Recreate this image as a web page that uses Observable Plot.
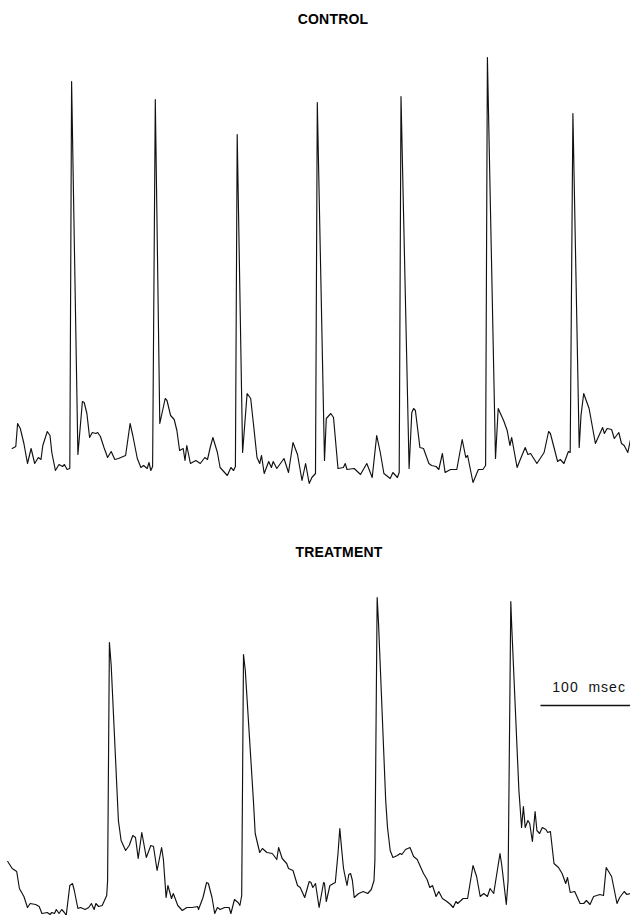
<!DOCTYPE html>
<html>
<head>
<meta charset="utf-8">
<script src="https://cdn.jsdelivr.net/npm/d3@7"></script>
<script src="https://cdn.jsdelivr.net/npm/@observablehq/plot@0.6"></script>
<style>
  html, body { margin: 0; padding: 0; background: #fff; }
  body { width: 630px; height: 915px; position: relative; overflow: hidden;
         font-family: "Liberation Sans", Arial, Helvetica, sans-serif; }
  .title { position: absolute; font-weight: bold; font-size: 14px; line-height: 16px;
           transform: translateX(-50%); white-space: nowrap; color: #000; letter-spacing: 0.2px; }
  #control { position: absolute; left: 0; top: 40px; }
  #treatment { position: absolute; left: 0; top: 580px; }
  svg { overflow: visible; }
</style>
</head>
<body>
<div id="title-control" class="title" style="left:333px; top:11px;"></div>
<div id="title-treatment" class="title" style="left:339px; top:544px;"></div>
<div id="control"></div>
<div id="treatment"></div>
<script>
// Panel titles
const panelTitles = ["CONTROL", "TREATMENT"];

// Control trace: [time (ms), amplitude (arbitrary units)]
const controlTrace = [
  [13,32],[17,34],[19,57],[22,52],[26,37],[30,17],[34,32],[38,17],[42,23],[45,21],[47,35],[52,49],[55,45],[57,28],[61,10],[65,16],[69,14],[71,16],[74,11],[77,12],
  [79,399],[86,26],[91,79],[93,78],[96,67],[99,43],[102,48],[106,47],[108,48],[111,44],[115,33],[119,23],[123,29],[127,21],[131,22],[139,25],[144,57],[147,45],[152,22],[156,13],[159,15],[163,12],[165,18],[167,10],[169,14],
  [172,381],[177,57],[183,82],[185,80],[189,65],[193,61],[196,50],[199,30],[203,32],[205,20],[207,35],[211,17],[217,20],[222,17],[227,23],[230,21],[233,33],[236,43],[241,28],[244,13],[252,5],[256,13],[259,10],[261,14],
  [263,346],[269,28],[274,87],[278,82],[281,57],[285,23],[288,17],[290,25],[293,7],[298,19],[301,13],[303,19],[307,12],[315,22],[320,8],[325,38],[330,26],[335,0],[339,17],[343,-3],[346,3],[350,7],
  [352,378],[360,20],[362,62],[367,67],[370,63],[375,12],[381,13],[383,17],[385,11],[393,12],[400,6],[407,17],[413,3],[418,45],[422,28],[426,7],[433,2],[436,8],[441,3],[443,8],
  [445,384],[454,12],[457,68],[459,72],[461,70],[466,33],[470,32],[476,17],[479,15],[484,14],[487,11],[491,27],[494,8],[500,11],[507,11],[513,41],[517,23],[519,25],[525,-2],[531,11],[536,11],[539,15],
  [541,423],[550,22],[553,72],[559,60],[563,50],[566,35],[568,43],[574,13],[578,22],[583,33],[586,26],[589,27],[596,17],[604,28],[609,49],[611,47],[619,19],[622,21],[626,17],[631,29],[633,28],
  [636,367],[643,33],[645,65],[648,87],[654,72],[661,37],[669,53],[671,47],[674,52],[679,51],[682,42],[687,48],[690,37],[693,35],[697,28],[700,41]
];

// Treatment trace: [time (ms), amplitude (arbitrary units)]
const treatmentTrace = [
  [8,49],[13,42],[18,39],[21,22],[26,14],[30,3],[33,7],[39,6],[43,4],[46,-3],[52,-2],[55,-4],[57,-2],[60,-3],[62,1],[65,-3],[68,1],[71,-2],[73,-5],[77,25],[80,27],[82,20],[86,2],[89,3],[94,1],[98,3],[101,7],[104,1],[106,7],[109,4],[113,5],[118,15],[119,30],
  [121,268],[123,245],[131,90],[134,70],[139,60],[143,65],[147,75],[150,73],[153,52],[157,78],[162,53],[167,65],[170,64],[174,40],[179,63],[181,51],[184,13],[186,25],[190,12],[192,17],[197,5],[202,0],[207,3],[213,3],[219,4],[220,1],[225,13],[229,28],[231,27],[235,13],[238,-3],[241,3],[244,1],[249,3],[254,3],[256,-3],[260,11],[264,8],[266,5],[268,15],
  [270,256],[272,240],[281,110],[283,77],[288,58],[291,62],[296,58],[302,57],[307,51],[309,63],[313,52],[318,47],[320,42],[325,40],[330,25],[333,23],[338,13],[343,29],[345,28],[347,23],[350,27],[354,3],[359,28],[360,27],[362,9],[366,25],[372,28],[375,57],[377,82],[379,62],[381,43],[382,38],[385,25],[387,36],[389,37],[391,30],[393,13],[398,17],[403,19],[408,17],[412,21],[415,30],[416,50],
  [418.5,313],[420,288],[428,110],[430,83],[433,60],[436,53],[441,55],[444,57],[446,56],[450,61],[455,63],[459,54],[463,51],[467,43],[470,37],[474,31],[477,23],[480,25],[484,14],[487,19],[491,12],[496,9],[500,6],[503,3],[506,9],[508,7],[514,12],[519,12],[525,45],[529,34],[533,14],[537,17],[541,14],[544,22],[548,17],[555,57],[557,45],[562,6],[564,30],
  [567,309],[568,285],[576,120],[579,83],[581,104],[583,83],[586,90],[588,87],[591,69],[594,99],[596,80],[599,77],[602,83],[606,81],[608,78],[611,79],[615,47],[620,43],[624,37],[628,27],[630,33],[633,18],[638,19],[644,7],[648,7],[651,10],[655,6],[659,14],[666,16],[670,15],[673,43],[679,34],[685,7],[688,13],[693,19],[696,16],[700,17]
];

// Time scale bar
const scaleBarLengthMs = 100;
const scaleBarLabel = "100  msec";

document.getElementById("title-control").textContent = panelTitles[0];
document.getElementById("title-treatment").textContent = panelTitles[1];

const toRows = arr => arr.map(([t, v]) => ({t, v}));
const font = "'Liberation Sans', Arial, Helvetica, sans-serif";
const timeDomain = [0, 700];

const controlPlot = Plot.plot({
  width: 630, height: 460,
  marginTop: 0, marginBottom: 0, marginLeft: 0, marginRight: 0,
  x: {domain: timeDomain, axis: null},
  y: {domain: [-20, 440], axis: null},
  style: {background: "transparent", fontFamily: font},
  marks: [
    Plot.line(toRows(controlTrace), {x: "t", y: "v", stroke: "#111", strokeWidth: 1.15, curve: "linear"})
  ]
});
document.getElementById("control").appendChild(controlPlot);

const barEnd = timeDomain[1];
const barStart = barEnd - scaleBarLengthMs;
const barLevel = 205;
const treatmentPlot = Plot.plot({
  width: 630, height: 335,
  marginTop: 0, marginBottom: 0, marginLeft: 0, marginRight: 0,
  x: {domain: timeDomain, axis: null},
  y: {domain: [-5, 330], axis: null},
  style: {background: "transparent", fontFamily: font},
  marks: [
    Plot.line(toRows(treatmentTrace), {x: "t", y: "v", stroke: "#111", strokeWidth: 1.15, curve: "linear"}),
    Plot.link([{x1: barStart, x2: barEnd, y: barLevel}], {x1: "x1", x2: "x2", y1: "y", y2: "y", stroke: "#111", strokeWidth: 1.5}),
    Plot.text([{x: barStart + 54, y: barLevel + 14, label: scaleBarLabel}], {x: "x", y: "y", text: "label", textAnchor: "middle", lineAnchor: "bottom", fontSize: 14, fill: "#111", fontFamily: font, style: "letter-spacing:1px"})
  ]
});
treatmentPlot.querySelectorAll("text").forEach(t => t.setAttribute("letter-spacing", "1"));
document.getElementById("treatment").appendChild(treatmentPlot);
</script>
</body>
</html>
